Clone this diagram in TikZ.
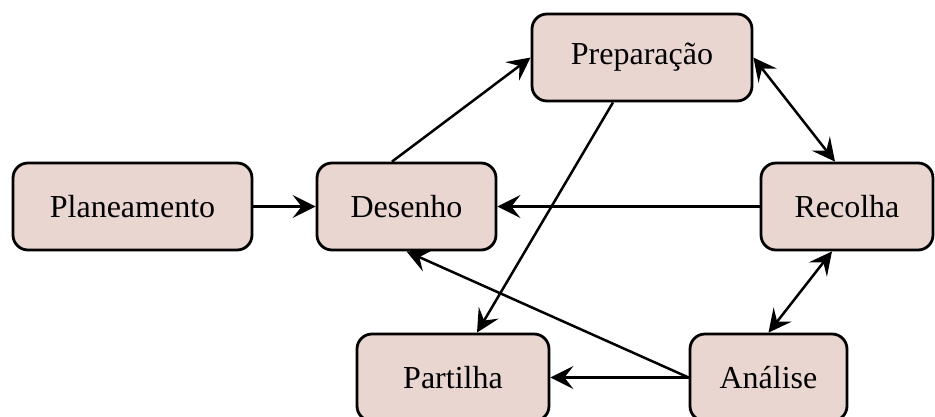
\documentclass[tikz,border=0pt]{standalone}
\usepackage{fontspec}
\setmainfont{Liberation Serif}
\usetikzlibrary{arrows.meta}
\definecolor{boxfill}{RGB}{234,214,208}
\tikzset{
  stage/.style={draw=black, line width=2.8pt, fill=boxfill, rounded corners=15pt,
    minimum height=87pt, inner sep=0pt, font=\fontsize{32}{38}\selectfont},
  conn/.style={line width=2.5pt, -{Stealth[length=23pt,width=23pt,inset=9pt]}},
  bconn/.style={line width=2.5pt, {Stealth[length=23pt,width=23pt,inset=9pt]}-{Stealth[length=23pt,width=23pt,inset=9pt]}}
}
\begin{document}
\begin{tikzpicture}[x=1pt,y=-1pt]
\useasboundingbox (0,0) rectangle (935,416);
\clip (0,0) rectangle (935,416);
\node[stage, minimum width=239pt] (plan) at (132.5,206.5) {Planeamento};
\node[stage, minimum width=179pt] (des) at (406.5,206.5) {Desenho};
\node[stage, minimum width=220pt] (prep) at (642,57.5) {Preparação};
\node[stage, minimum width=172pt] (rec) at (847,206.5) {Recolha};
\node[stage, minimum width=192pt] (part) at (453,377.5) {Partilha};
\node[stage, minimum width=157pt] (ana) at (768.5,377.5) {Análise};
\draw[conn] (plan.east) -- (des.west);
\draw[conn] ([xshift=-14.5pt]des.north) -- (prep.west);
\draw[bconn] (prep.east) -- ([xshift=-12pt]rec.north);
\draw[conn] (rec.west) -- (des.east);
\draw[conn] ([xshift=-29pt]prep.south) -- ([xshift=24pt]part.north);
\draw[bconn] ([xshift=-15pt]rec.south) -- (ana.north);
\draw[conn] (ana.west) -- (des.south);
\draw[conn] (ana.west) -- (part.east);
\end{tikzpicture}
\end{document}
